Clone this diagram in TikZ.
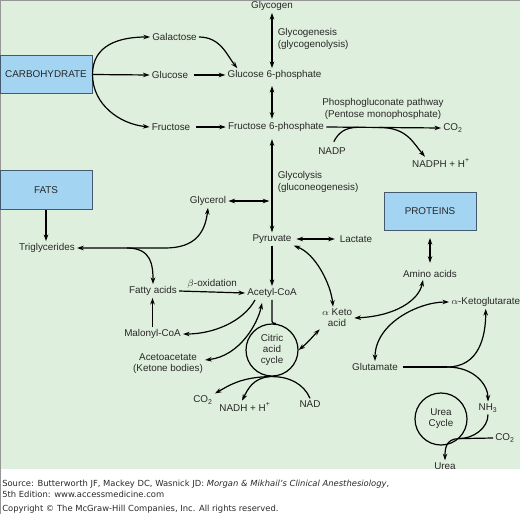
\documentclass[tikz,border=0pt]{standalone}
\usepackage{fontspec}
\setmainfont{Liberation Sans}
\newfontfamily\srcfont{DejaVu Sans}
\usepackage{tikz}
\usetikzlibrary{arrows.meta,positioning,calc}
\definecolor{BgGreen}{RGB}{223,239,221}
\definecolor{BoxBlue}{RGB}{163,213,242}
\definecolor{BoxEdge}{RGB}{70,90,110}
\definecolor{TextGrey}{RGB}{40,40,40}
\definecolor{FrameGrey}{RGB}{150,150,150}

\begin{document}
\begin{tikzpicture}[x=0.75pt,y=-0.75pt,
  font=\fontsize{7.4}{8.4}\selectfont,
  >={Stealth[length=5pt,width=3.4pt]},
  lbl/.style={inner sep=1.5pt,text=TextGrey,align=center},
  pbox/.style={draw=BoxEdge,fill=BoxBlue,line width=0.75pt,minimum width=69pt,
               minimum height=29pt,inner sep=0pt,text=TextGrey},
  cyc/.style={draw,circle,line width=0.9pt,minimum size=39pt,inner sep=0pt,
              align=center,text=TextGrey},
  conn/.style={line width=0.9pt},
  src/.style={anchor=west,inner sep=1.5pt,text=TextGrey,font=\srcfont\fontsize{6.3}{7}\selectfont},
]
\useasboundingbox (0,0) rectangle (520,514);
\fill[BgGreen] (0,0) rectangle (520,469);
\draw[FrameGrey,line width=0.75pt] (0.5,514) -- (0.5,0.5) -- (520,0.5);

\node[pbox] (carbo) at (46,74.5) {CARBOHYDRATE};
\node[pbox] (fats) at (46,190) {FATS};
\node[pbox] (proteins) at (430,211.5) {PROTEINS};

\node[lbl] (glycogen) at (272,6) {Glycogen};
\node[lbl,anchor=west,align=left] (glycogenesis) at (275.5,39) {Glycogenesis\\(glycogenolysis)};
\node[lbl] (galactose) at (174.5,37) {Galactose};
\node[lbl] (glucose) at (170,75) {Glucose};
\node[lbl] (g6p) at (274.5,75) {Glucose 6-phosphate};
\node[lbl] (fructose) at (171,127) {Fructose};
\node[lbl] (f6p) at (276,127) {Fructose 6-phosphate};
\node[lbl] (ppp) at (383,109) {Phosphogluconate pathway\\(Pentose monophosphate)};
\node[lbl] (co2a) at (453,128) {CO\textsubscript{2}};
\node[lbl] (nadp) at (332,151) {NADP};
\node[lbl] (nadph) at (441,163) {NADPH + H\textsuperscript{+}};
\node[lbl,anchor=west,align=left] (glycolysis) at (275.5,182) {Glycolysis\\(gluconeogenesis)};
\node[lbl] (glycerol) at (208,201) {Glycerol};
\node[lbl] (triglycerides) at (47,248) {Triglycerides};
\node[lbl] (pyruvate) at (272,239) {Pyruvate};
\node[lbl] (lactate) at (356,239) {Lactate};
\node[lbl] (fatty) at (153,291) {Fatty acids};
\node[lbl] (acetyl) at (272,293) {Acetyl-CoA};
\node[lbl] (malonyl) at (152.5,334) {Malonyl-CoA};
\node[lbl] (acetoacetate) at (168,364) {Acetoacetate\\(Ketone bodies)};
\node[cyc] (citric) at (272,350) {Citric\\acid\\cycle};
\node[lbl] (aketo) at (337,318) {$\alpha$ Keto\\acid};
\node[lbl] (co2b) at (203,400) {CO\textsubscript{2}};
\node[lbl] (nadh) at (245,407) {NADH + H\textsuperscript{+}};
\node[lbl] (nad) at (310,404) {NAD};
\node[lbl] (amino) at (430,274) {Amino acids};
\node[lbl,anchor=west] (akg) at (449,302) {$\alpha$-Ketoglutarate};
\node[lbl] (glutamate) at (375,367) {Glutamate};
\node[lbl] (nh3) at (488,408) {NH\textsubscript{3}};
\node[cyc] (urcyc) at (441,419) {Urea\\Cycle};
\node[lbl] (co2c) at (505,438) {CO\textsubscript{2}};
\node[lbl] (urea) at (445,466) {Urea};

\draw[conn,->] (carbo.east) .. controls +(0,-30) and +(-30,0) .. (galactose.west);
\draw[conn,->] (carbo.east) -- (glucose.west);
\draw[conn,->] (carbo.east) .. controls +(0,30) and +(-30,-3) .. (fructose.west);
\draw[conn,->] (galactose.east) .. controls +(22,0) and +(-10,-12) .. ($(g6p.north west)+(12,0)$);
\draw[conn,->,shorten <=3pt] (glucose.east) -- (g6p.west);
\draw[conn,->,shorten <=3pt] (fructose.east) -- (f6p.west);
\draw[conn,<->] (glycogen.south) -- (glycogen.south |- g6p.north);
\draw[conn,<->,shorten <=3pt,shorten >=1pt] (pyruvate.north |- g6p.south) -- (pyruvate.north |- f6p.north);
\draw[conn,<->,shorten <=4pt] (pyruvate.north |- f6p.south) -- (pyruvate.north);

\draw[conn,->] (f6p.east) -- (co2a.west);
\coordinate (nadpin) at ($(f6p.east)!0.28!(co2a.west)$);
\coordinate (nadpout) at ($(f6p.east)!0.46!(co2a.west)$);
\draw[conn,shorten <=3pt] (nadp.north) .. controls +(6,-12) and +(-14,0) .. (nadpin);
\draw[conn,->] (nadpout) .. controls +(28,0) and +(-12,-14) .. ($(nadph.north)+(-16,0)$);

\draw[conn,<->,shorten >=2pt] (glycerol.east) -- (glycerol.east -| pyruvate.north);
\draw[conn,->] (fats.south) -- (fats.south |- triglycerides.north);
\draw[conn,<->] (triglycerides.east) -- ++(88,0) .. controls +(30,0) and +(-3,25) .. (glycerol.south);
\draw[conn,->] ($(triglycerides.east)+(50,0)$) .. controls +(25,0) and +(0,-18) .. (fatty.north);
\draw[conn,->] (fatty.east) -- (acetyl.west) node[midway,above=1pt,lbl] {$\beta$-oxidation};
\draw[conn,->] (malonyl.north) -- (malonyl.north |- fatty.south);

\draw[conn,->] (pyruvate.south) -- (acetyl.north);
\draw[conn,<->,shorten <=2pt,shorten >=2pt] (pyruvate.east) -- (lactate.west);
\draw[conn,<->] (pyruvate.south east) .. controls +(22,8) and +(-2,-22) .. ($(aketo.north)+(-4,0)$);
\draw[conn] (acetyl.south) -- ($(citric.north)+(0,-2)$) .. controls +(0,2) and +(-2,0) .. ($(citric.north)+(4,0)$);
\draw[conn,<->] (citric.east) .. controls +(10,-8) and +(-6,6) .. (aketo.south west);
\draw[conn,->] ($(acetyl.south west)+(10,0)$) .. controls +(-12,22) and +(30,0) .. (malonyl.east);
\draw[conn,<->] ([yshift=3pt]acetoacetate.east) .. controls +(35,-4) and +(-4,20) .. ($(acetyl.south)+(-10,3)$);

\draw[conn] (nad.north) .. controls +(-6,-14) and +(18,0) .. (citric.south);
\draw[conn,->] (citric.south) .. controls +(-30,0) and +(14,-8) .. (co2b.north east);
\draw[conn,->] ($(citric.south)+(-3,0)$) .. controls +(-16,2) and +(6,-12) .. ($(nadh.north)+(-3,0)$);

\draw[conn,<->,shorten <=5pt,shorten >=4pt] (proteins.south) -- (amino.north);
\draw[conn,<->] (aketo.east) .. controls +(42,-2) and +(-4,20) .. ($(amino.south)+(-7,0)$);
\draw[conn,<->] (glutamate.north) .. controls +(0,-38) and +(-30,0) .. (akg.west);
\coordinate (glujoin) at ($(glutamate.east)+(47,0)$);
\draw[conn,shorten <=2pt] (glutamate.east) -- (glujoin);
\draw[conn,->] (glujoin) .. controls +(32,0) and +(0,28) .. (akg.south);
\draw[conn,->] (glujoin) .. controls +(28,0) and +(0,-16) .. (nh3.north);

\coordinate (ucjoin) at ($(urcyc.south)+(18,-7)$);
\draw[conn] (nh3.south) .. controls +(0,14) and +(14,0) .. (ucjoin);
\draw[conn] (co2c.west) -- (ucjoin);
\draw[conn,->] (ucjoin) .. controls +(-14,0) and +(0,-10) .. (urea.north);

\node[src] (source) at (0,484) {Source: Butterworth JF, Mackey DC, Wasnick JD: \textit{Morgan \& Mikhail’s Clinical Anesthesiology},};
\node[src] (edition) at (0,494) {5th Edition: www.accessmedicine.com};
\node[src] (copyright) at (0,509) {Copyright © The McGraw-Hill Companies, Inc. All rights reserved.};
\end{tikzpicture}
\end{document}
